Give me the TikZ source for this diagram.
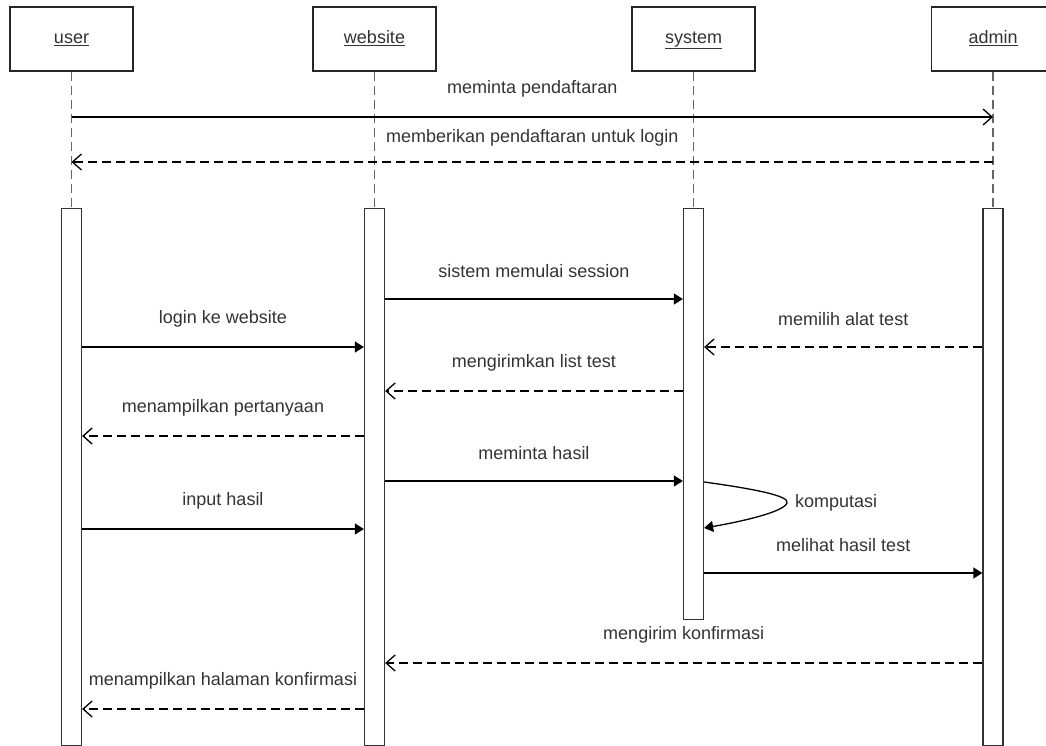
\documentclass[tikz,border=0pt]{standalone}
\usepackage{fontspec}
\setmainfont{Liberation Sans}
\usetikzlibrary{arrows.meta}
\begin{document}
\begin{tikzpicture}[x=1pt,y=-1pt,
  head/.style={draw=black!85, line width=1.3pt, minimum width=123pt, minimum height=64pt, inner sep=0pt, fill=white, font=\fontsize{18}{20}\selectfont, text=black!80, text height=13pt, text depth=4pt},
  life/.style={draw=black!60, line width=1.5pt, dash pattern=on 9pt off 5pt},
  bar/.style={draw=black!80, line width=1.3pt, fill=white, minimum width=20pt, inner sep=0pt, anchor=north},
  sync/.style={draw=black, line width=1.3pt, -{Triangle[length=9pt,width=11pt]}},
  async/.style={draw=black, line width=1.3pt, -{Straight Barb[length=9pt,width=16pt]}},
  reply/.style={async, dash pattern=on 9pt off 5pt},
  lbl/.style={font=\fontsize{18}{20}\selectfont, text=black!80, inner sep=0pt, midway, yshift=28pt},
]
\useasboundingbox (0,0) rectangle (1046,746);
\clip (0,0) rectangle (1046,746);

% participants
\node[head] (user) at (71.5,39) {\underline{user}};
\node[head] (web) at (374.5,39) {\underline{website}};
\node[head] (sys) at (693.5,39) {\underline{system}};
\node[head] (adm) at (993,39) {\underline{admin}};

% activation bars
\node[bar, minimum height=537pt] (ubar) at (71.5,208) {};
\node[bar, minimum height=537pt] (wbar) at (374.5,208) {};
\node[bar, minimum height=411pt] (sbar) at (693.5,208) {};
\node[bar, minimum height=537pt] (abar) at (993,208) {};

% lifelines
\draw[life] (user.south) -- (ubar.north);
\draw[life] (web.south) -- (wbar.north);
\draw[life] (sys.south) -- (sbar.north);
\draw[life] (adm.south) -- (abar.north);

% messages
\draw[async] (user.south |- 0,117) -- node[lbl] {meminta pendaftaran} (adm.south |- 0,117);
\draw[reply] (adm.south |- 0,162) -- node[lbl, yshift=-4pt] {memberikan pendaftaran untuk login} (user.south |- 0,162);

\draw[sync] (wbar.east |- 0,299) -- node[lbl] {sistem memulai session} (sbar.west |- 0,299);
\draw[sync] (ubar.east |- 0,347) -- node[lbl] {login ke website} (wbar.west |- 0,347);
\draw[reply] (abar.west |- 0,347) -- node[lbl] {memilih alat test} (sbar.east |- 0,347);
\draw[reply] (sbar.west |- 0,391) -- node[lbl] {mengirimkan list test} (wbar.east |- 0,391);
\draw[reply] (wbar.west |- 0,436) -- node[lbl] {menampilkan pertanyaan} (ubar.east |- 0,436);
\draw[sync] (wbar.east |- 0,481) -- node[lbl] {meminta hasil} (sbar.west |- 0,481);
\draw[sync] (ubar.east |- 0,529) -- node[lbl] {input hasil} (wbar.west |- 0,529);

% self call
\draw[sync] (sbar.east |- 0,482) .. controls (755,489) and (790,496) .. (787,503)
  .. controls (784,511) and (750,520) .. (sbar.east |- 0,528);
\node[font=\fontsize{18}{20}\selectfont, text=black!80, inner sep=0pt, anchor=west] (komp) at (795,503) {komputasi};

\draw[sync] (sbar.east |- 0,573) -- node[lbl] {melihat hasil test} (abar.west |- 0,573);
\draw[reply] (abar.west |- 0,663) -- node[lbl] {mengirim konfirmasi} (wbar.east |- 0,663);
\draw[reply] (wbar.west |- 0,709) -- node[lbl] {menampilkan halaman konfirmasi} (ubar.east |- 0,709);
\end{tikzpicture}
\end{document}
